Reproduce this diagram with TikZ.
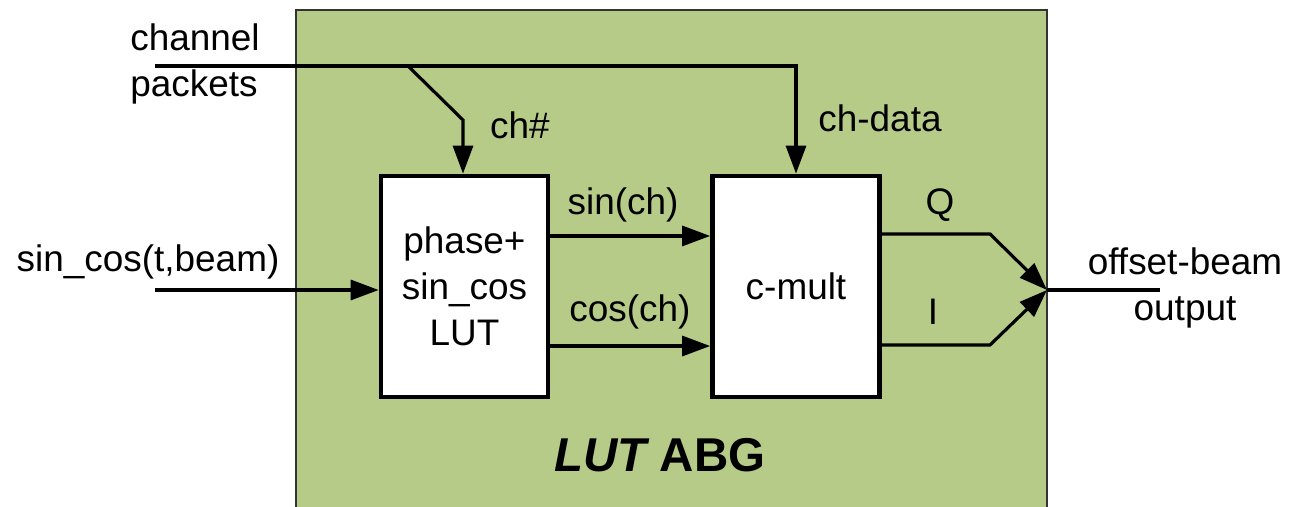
\documentclass[tikz,border=0pt]{standalone}
\usepackage{fontspec}
\setmainfont{Liberation Sans}
\usetikzlibrary{arrows.meta}
\definecolor{abggreen}{RGB}{183,203,136}
\begin{document}
\begin{tikzpicture}[x=0.01cm,y=-0.01cm,
  wire/.style={line width=0.9pt},
  arr/.style={wire,-{Triangle[length=0.28cm,width=0.2cm]}},
  blk/.style={draw,line width=1.3pt,fill=white,inner sep=0pt,minimum width=1.67cm,minimum height=2.21cm,align=center,font=\fontsize{10.5}{13}\selectfont},
  lbl/.style={inner sep=0pt,align=center,font=\fontsize{10.5}{13}\selectfont}]
\useasboundingbox (0,0) rectangle (1290,507);
% green enclosure
\fill[abggreen] (296,10) rectangle (1047,507);
\draw[line width=0.6pt,black!80] (296,507) -- (296,10) -- (1047,10) -- (1047,507);
% blocks
\node[blk] (phase) at (464.5,286.5) {phase+\\sin\_cos\\LUT};
\node[blk] (cmult) at (796,286.5) {c-mult};
% coordinates
\coordinate (chin) at (155,66);
\coordinate (br) at (408,66);
\coordinate (bend) at (463,120);
\coordinate (sinin) at (155,290);
\coordinate (qb) at (990,234);
\coordinate (ib) at (990,345);
\coordinate (outpt) at (1047,290);
\coordinate (outend) at (1160,290);
% connectors
\draw[arr] (chin) -| (cmult.north);
\draw[arr] (br) -- (bend) -- (bend |- phase.north);
\draw[arr] (sinin) -- (sinin -| phase.west);
\draw[arr] ([yshift=0.505cm]phase.east) -- ([yshift=0.505cm]cmult.west);
\draw[arr] ([yshift=-0.595cm]phase.east) -- ([yshift=-0.595cm]cmult.west);
\draw[arr] (qb -| cmult.east) -- (qb) -- (outpt);
\draw[arr] (ib -| cmult.east) -- (ib) -- (outpt);
\draw[wire] (outpt) -- (outend);
% labels
\node[lbl,align=left] (chp) at (195,64) {channel\\packets};
\node[lbl] (chn) at (520,125) {ch\#};
\node[lbl] (chd) at (880,118) {ch-data};
\node[lbl] (sinl) at (148,262) {sin\_cos(t,beam)};
\node[lbl] (sinch) at (623,205) {sin(ch)};
\node[lbl] (cosch) at (630,312) {cos(ch)};
\node[lbl] (ql) at (940,205) {Q};
\node[lbl] (il) at (933,312) {I};
\node[lbl] (outl) at (1185,288) {offset-beam\\output};
\node[inner sep=0pt,font=\fontsize{13.5}{16}\selectfont\bfseries] (title) at (660,455) {\itshape LUT\upshape\ ABG};
\end{tikzpicture}
\end{document}
